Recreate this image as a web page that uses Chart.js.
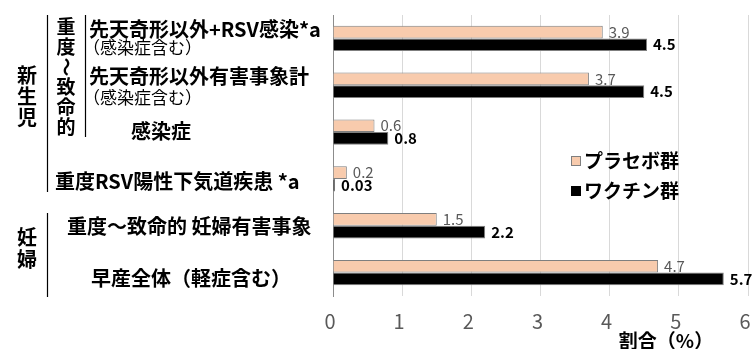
<!DOCTYPE html>
<html><head><meta charset="utf-8">
<script src="https://cdn.jsdelivr.net/npm/chart.js@4/dist/chart.umd.min.js"></script>
<style>html,body{margin:0;padding:0;background:#fff;overflow:hidden;}#wrap{width:752px;height:349px;position:relative;overflow:hidden;}</style>
</head><body><div id="wrap"><canvas id="c" width="770" height="349"></canvas></div>
<script>
// ---- data ----
const categories = ['先天奇形以外+RSV感染*a', '先天奇形以外有害事象計', '感染症', '重度RSV陽性下気道疾患 *a', '重度～致命的 妊婦有害事象', '早産全体（軽症含む）'];
const subLabels = ['（感染症含む）', '（感染症含む）', '', '', '', ''];
const placebo = [3.9, 3.7, 0.6, 0.2, 1.5, 4.7];
const vaccine = [4.54, 4.5, 0.8, 0.03, 2.2, 5.65];
const placeboLabels = ['3.9', '3.7', '0.6', '0.2', '1.5', '4.7'];
const vaccineLabels = ['4.5', '4.5', '0.8', '0.03', '2.2', '5.7'];
const seriesNames = ['プラセボ群', 'ワクチン群'];
const xTicks = [0, 1, 2, 3, 4, 5, 6];
const groupNewborn = '新生児';
const groupSevere = '重度～致命的';
const groupPregnant = '妊婦';
const axisTitle = '割合（%）';

const FONT = '"Noto Sans CJK JP", "Noto Sans", sans-serif';
const PEACH = '#F8CBAD';
const valueLabels = [placeboLabels, vaccineLabels];

const overlay = {
  id: 'overlay',
  afterDatasetsDraw(chart) {
    const ctx = chart.ctx;
    const y = chart.scales.y;
    const py = i => y.getPixelForValue(i);
    ctx.save();
    // value labels
    chart.data.datasets.forEach((ds, di) => {
      const meta = chart.getDatasetMeta(di);
      meta.data.forEach((bar, i) => {
        ctx.font = (di === 1 ? 'bold ' : '') + '15px ' + FONT;
        ctx.fillStyle = di === 1 ? '#000' : '#595959';
        ctx.textAlign = 'left';
        ctx.textBaseline = 'middle';
        ctx.fillText(valueLabels[di][i], bar.x + 6, bar.y);
      });
    });
    // left labels
    ctx.fillStyle = '#000';
    ctx.textBaseline = 'middle';
    ctx.textAlign = 'left';
    ctx.font = 'bold 20px ' + FONT;
    ctx.fillText(categories[0], 89, py(0) - 9);
    ctx.fillText(categories[1], 89, py(1) - 9);
    ctx.font = '17px ' + FONT;
    ctx.fillText(subLabels[0], 83, py(0) + 9);
    ctx.fillText(subLabels[1], 83, py(1) + 12);
    ctx.font = 'bold 20px ' + FONT;
    ctx.textAlign = 'center';
    ctx.fillText(categories[2], 161, py(2) - 1);
    ctx.textAlign = 'left';
    ctx.fillText(categories[3], 55, py(3) + 2);
    ctx.fillText(categories[4], 67, py(4) + 1);
    ctx.fillText(categories[5], 91, py(5) + 6);
    // vertical group labels
    ctx.textAlign = 'center';
    ctx.font = 'bold 20px ' + FONT;
    [...groupNewborn].forEach((ch, k) => ctx.fillText(ch, 27, 75 + k * 21));
    [...groupPregnant].forEach((ch, k) => ctx.fillText(ch, 27, 237 + k * 22));
    ctx.font = 'bold 19px ' + FONT;
    [...groupSevere].forEach((ch, k) => {
      const cy = 27 + k * 20;
      if (ch === '～') {
        ctx.save();
        ctx.translate(66, cy);
        ctx.rotate(Math.PI / 2);
        ctx.fillText(ch, 0, 0);
        ctx.restore();
      } else {
        ctx.fillText(ch, 66, cy);
      }
    });
    // bracket lines
    ctx.strokeStyle = '#000';
    ctx.lineWidth = 1.2;
    ctx.beginPath();
    ctx.moveTo(47.5, 15); ctx.lineTo(47.5, 192);
    ctx.moveTo(85.5, 15); ctx.lineTo(85.5, 137);
    ctx.moveTo(47.5, 213); ctx.lineTo(47.5, 297);
    ctx.stroke();
    // legend
    const lx = 571;
    [[PEACH, '#7f7f7f', 161], ['#000', '#000', 191]].forEach((s, k) => {
      ctx.fillStyle = s[0];
      ctx.fillRect(lx, s[2] - 5, 10, 10);
      ctx.strokeStyle = s[1];
      ctx.lineWidth = 1;
      ctx.strokeRect(lx + 0.5, s[2] - 4.5, 9, 9);
      ctx.fillStyle = '#000';
      ctx.textAlign = 'left';
      ctx.font = 'bold 19px ' + FONT;
      ctx.fillText(seriesNames[k], lx + 13, s[2]);
    });
    // axis title
    ctx.fillStyle = '#000';
    ctx.font = 'bold 19px ' + FONT;
    ctx.textAlign = 'center';
    ctx.fillText(axisTitle, 666, 341);
    ctx.restore();
  }
};

new Chart(document.getElementById('c'), {
  type: 'bar',
  data: {
    labels: categories,
    datasets: [
      { label: seriesNames[0], data: placebo, backgroundColor: PEACH, borderColor: '#7f7f7f', borderWidth: 1, borderSkipped: 'start' },
      { label: seriesNames[1], data: vaccine, backgroundColor: '#000', borderColor: '#7f7f7f', borderWidth: 1, borderSkipped: 'start' }
    ]
  },
  options: {
    indexAxis: 'y',
    responsive: false,
    animation: false,
    devicePixelRatio: 1,
    layout: { padding: { left: 333, right: 22, top: 15, bottom: 3 } },
    datasets: { bar: { barPercentage: 1, categoryPercentage: 0.54 } },
    plugins: { legend: { display: false }, tooltip: { enabled: false } },
    scales: {
      x: {
        min: 0, max: 6,
        afterBuildTicks: s => { s.ticks = xTicks.map(v => ({ value: v })); },
        grid: { color: '#d9d9d9', drawTicks: false },
        border: { display: false },
        ticks: { color: '#595959', font: { size: 20, family: FONT }, padding: 13, labelOffset: -3 }
      },
      y: {
        grid: { display: false, drawTicks: false },
        border: { display: true, color: '#8c8c8c' },
        ticks: { display: false }
      }
    }
  },
  plugins: [overlay]
});
</script></body></html>
